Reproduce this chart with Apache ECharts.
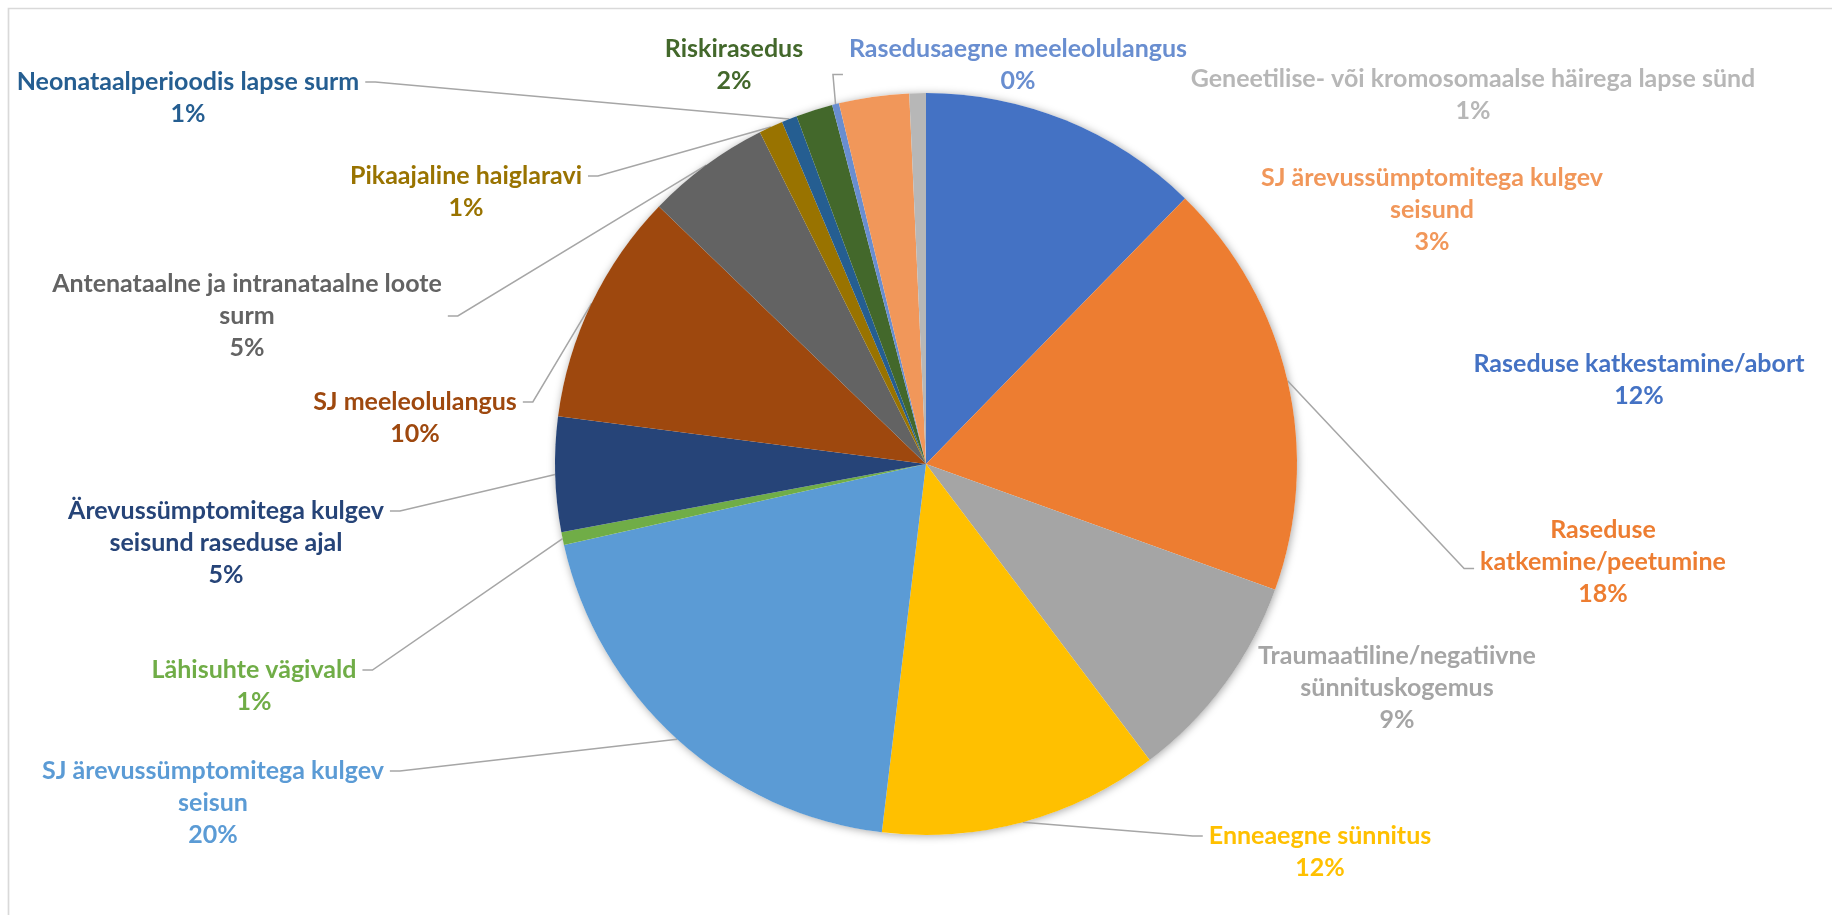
<!DOCTYPE html>
<html>
<head>
<meta charset="utf-8">
<script src="https://cdn.jsdelivr.net/npm/echarts@6/dist/echarts.min.js"></script>
<style>
html,body{margin:0;padding:0;background:#ffffff;}
#chart{width:1832px;height:915px;}
</style>
</head>
<body>
<div id="chart"></div>
<script>
// ---- data ----
const categories = [
  'Raseduse katkestamine/abort',
  'Raseduse\nkatkemine/peetumine',
  'Traumaatiline/negatiivne\nsünnituskogemus',
  'Enneaegne sünnitus',
  'SJ ärevussümptomitega kulgev\nseisun',
  'Lähisuhte vägivald',
  'Ärevussümptomitega kulgev\nseisund raseduse ajal',
  'SJ meeleolulangus',
  'Antenataalne ja intranataalne loote\nsurm',
  'Pikaajaline haiglaravi',
  'Neonataalperioodis lapse surm',
  'Riskirasedus',
  'Rasedusaegne meeleolulangus',
  'SJ ärevussümptomitega kulgev\nseisund',
  'Geneetilise- või kromosomaalse häirega lapse sünd'
];
const values = [12.3, 18.2, 9.2, 12.2, 19.6, 0.55, 5.0, 10.16, 5.4, 1.05, 0.67, 1.6, 0.3, 3.05, 0.72];

// ---- styles / layout ----
const colors = ['#4472C4','#ED7D31','#A5A5A5','#FFC000','#5B9BD5','#70AD47','#264478','#9E480E',
                '#636363','#997300','#255E91','#43682B','#698ED0','#F1975A','#B7B7B7'];
const showLeader = [false,true,false,true,true,true,true,true,true,true,true,false,true,false,false];
// text line (0-based, may be fractional) that the leader line meets
const leaderLineIdx = [0,1.2,0,0,0,0,0,0,1,0,0,0,0.8,0,0];
// label block centres (px)
const labelPos = [
  [1639,380],[1603,562],[1397,688],[1320,852],[213,803],[254,686],[226,543],
  [415,418],[247,316],[466,192],[188,98],[734,65],[1018,65],[1432,210],[1473,95]
];
const LINE_H = 32, GAP = 6, STUB = 10;

const chart = echarts.init(document.getElementById('chart'), null, {renderer:'canvas'});

const data = categories.map((name, i) => ({
  name: name,
  value: values[i],
  itemStyle: { color: colors[i] },
  label: { color: colors[i] },
  labelLine: { show: showLeader[i] }
}));

chart.setOption({
  animation: false,
  backgroundColor: '#ffffff',
  graphic: [{
    type: 'rect',
    silent: true,
    shape: { x: 8.5, y: 8.5, width: 4000, height: 4000 },
    style: { fill: 'none', stroke: '#D9D9D9', lineWidth: 1.7 }
  }],
  series: [
    {
      // soft shadow under the pie
      type: 'pie',
      silent: true,
      center: [926, 464],
      radius: 371,
      z: 1,
      label: { show: false },
      labelLine: { show: false },
      itemStyle: { color: '#ffffff', shadowBlur: 8, shadowColor: 'rgba(0,0,0,0.35)', shadowOffsetX: 1, shadowOffsetY: 1 },
      data: [{ value: 1, name: '' }]
    },
    {
      type: 'pie',
      center: [926, 464],
      radius: 371,
      z: 2,
      startAngle: 90,
      clockwise: true,
      avoidLabelOverlap: false,
      percentPrecision: 2,
      itemStyle: { borderWidth: 0 },
      label: {
        show: true,
        position: 'outside',
        fontFamily: 'Lato',
        fontWeight: 'bold',
        fontSize: 25,
        lineHeight: LINE_H,
        align: 'center',
        formatter: p => p.name + '\n' + Math.round(p.percent) + '%'
      },
      labelLine: {
        show: true,
        length: 10,
        length2: 12,
        smooth: false,
        lineStyle: { color: '#A6A6A6', width: 1.5 }
      },
      labelLayout: function (params) {
        const i = params.dataIndex;
        const p = labelPos[i];
        const res = { x: p[0], y: p[1], align: 'center', verticalAlign: 'middle' };
        const pts = params.labelLinePoints;
        if (showLeader[i] && pts && pts.length) {
          const a = pts[0]; // point on the slice edge (library layout)
          const w = params.labelRect.width, h = params.labelRect.height;
          const left = p[0] - w / 2, right = p[0] + w / 2;
          const ay = p[1] - h / 2 + LINE_H * (leaderLineIdx[i] + 0.5);
          let e, dir;
          if (a[0] > right) { e = right; dir = 1; } else { e = left; dir = -1; }
          res.labelLinePoints = [
            [a[0], a[1]],
            [e + dir * (GAP + STUB), ay],
            [e + dir * GAP, ay]
          ];
        }
        return res;
      },
      data: data
    }
  ]
});
</script>
</body>
</html>
